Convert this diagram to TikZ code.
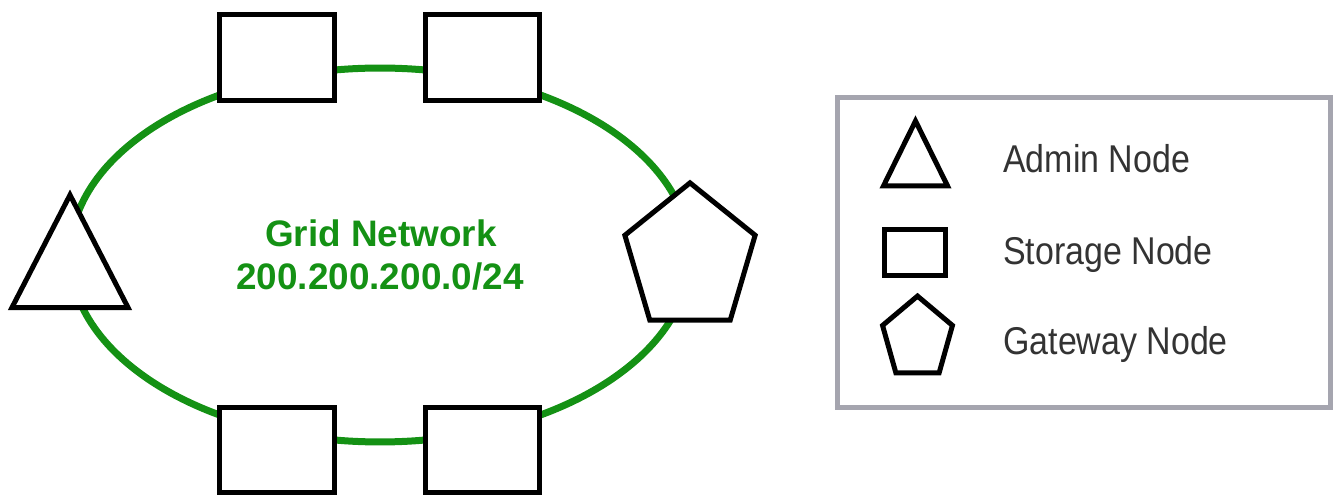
\documentclass[tikz,border=0pt]{standalone}
\usepackage{fontspec}
\setmainfont{Liberation Sans}
\usetikzlibrary{shapes.geometric}
\definecolor{gridgreen}{RGB}{20,145,20}
\definecolor{framegray}{RGB}{165,165,175}

\begin{document}
\begin{tikzpicture}[x=0.02cm,y=-0.02cm,
    ring/.style={gridgreen,line width=0.14cm},
    shp/.style={draw,fill=white,line width=0.1cm,inner sep=0pt},
    storage/.style={shp,minimum width=2.3cm,minimum height=1.72cm},
    admin/.style={shp,regular polygon,regular polygon sides=3},
    gateway/.style={shp,regular polygon,regular polygon sides=5},
    nettext/.style={text=gridgreen,font=\fontsize{21pt}{25pt}\bfseries\selectfont,anchor=base},
    legtext/.style={anchor=base west,inner sep=0pt,xscale=0.92,yscale=1.05,font=\fontsize{21pt}{25pt}\selectfont,text=black!80}
]
    \useasboundingbox (0,0) rectangle (1335,499);

    % the grid network ring
    \coordinate (ctr) at (380,255);
    \draw[ring] (ctr) ellipse [x radius=6.2cm, y radius=3.74cm];

    \node[storage] (s1) at (277,57.5) {};
    \node[storage] (s2) at (482.5,57.5) {};
    \node[storage] (s3) at (277,450) {};
    \node[storage] (s4) at (482.5,450) {};
    \node[admin,minimum size=2.68cm,yscale=1.12] (adm) at (70,270) {};
    \node[gateway,minimum size=2.74cm,yscale=1.107] (gw) at (690,258.7) {};

    \node[nettext] (net) at (381,247) {Grid Network};
    \node[nettext] (ip) at (380,290) {200.200.200.0/24};

    % legend
    \draw[framegray,line width=0.1cm] (837.5,97.5) rectangle (1330.5,407.5);
    \node[admin,minimum size=1.48cm,yscale=1.17] (ladm) at (915.5,164.3) {};
    \node[shp,minimum width=1.22cm,minimum height=0.92cm] (lsto) at (915,252.5) {};
    \node[gateway,minimum size=1.47cm,yscale=1.157] (lgw) at (917.5,338.6) {};
    \node[legtext] (tadm) at (1003,173) {Admin Node};
    \node[legtext] (tsto) at (1003,265) {Storage Node};
    \node[legtext] (tgw) at (1003,355) {Gateway Node};
\end{tikzpicture}
\end{document}
